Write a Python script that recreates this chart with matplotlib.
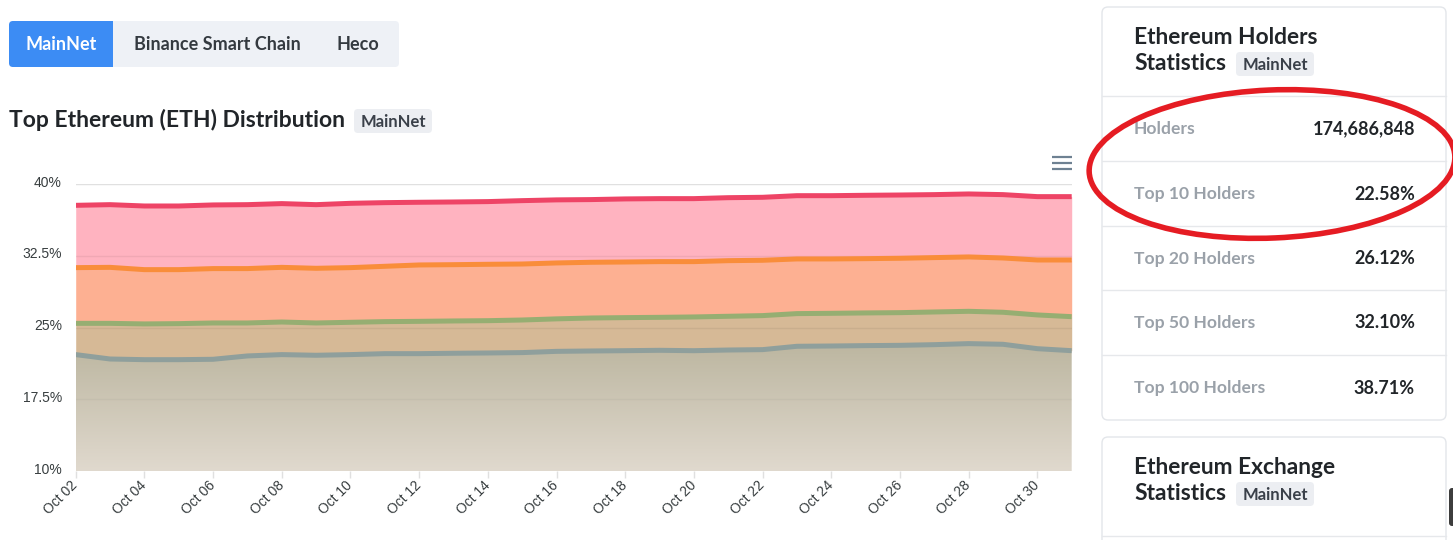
import numpy as np
import matplotlib
matplotlib.use("Agg")
import matplotlib.pyplot as plt
import matplotlib.transforms as mtransforms
from matplotlib.patches import FancyBboxPatch, Rectangle, Ellipse
from matplotlib.ticker import FuncFormatter

# ---- data ----
days = list(range(2, 32))  # Oct 02 .. Oct 31

top100 = [37.80, 37.87, 37.73, 37.73, 37.84, 37.87, 37.98, 37.87, 38.01, 38.08,
          38.12, 38.15, 38.19, 38.29, 38.37, 38.40, 38.47, 38.50, 38.50, 38.60,
          38.64, 38.81, 38.81, 38.85, 38.88, 38.92, 38.99, 38.92, 38.71, 38.71]
top50 = [31.28, 31.31, 31.07, 31.07, 31.18, 31.18, 31.31, 31.21, 31.28, 31.42,
         31.56, 31.59, 31.63, 31.66, 31.77, 31.84, 31.87, 31.91, 31.91, 32.01,
         32.05, 32.19, 32.19, 32.22, 32.26, 32.33, 32.40, 32.29, 32.08, 32.08]
top20 = [25.45, 25.45, 25.39, 25.42, 25.49, 25.49, 25.59, 25.49, 25.56, 25.63,
         25.66, 25.70, 25.73, 25.80, 25.92, 26.01, 26.05, 26.08, 26.12, 26.19,
         26.26, 26.47, 26.50, 26.54, 26.57, 26.64, 26.71, 26.61, 26.33, 26.15]
top10 = [22.18, 21.72, 21.65, 21.65, 21.69, 22.04, 22.18, 22.11, 22.18, 22.28,
         22.28, 22.32, 22.35, 22.39, 22.52, 22.56, 22.59, 22.63, 22.59, 22.66,
         22.70, 23.05, 23.08, 23.12, 23.15, 23.22, 23.33, 23.26, 22.80, 22.59]

y_ticks = [10, 17.5, 25, 32.5, 40]
x_ticks = list(range(2, 31, 2))

tabs = ["MainNet", "Binance Smart Chain", "Heco"]
row_labels = ["Holders", "Top 10 Holders", "Top 20 Holders", "Top 50 Holders", "Top 100 Holders"]
row_values = ["174,686,848", "22.58%", "26.12%", "32.10%", "38.71%"]

W, H = 1453, 540
FONT = "Lato"
DARK = "#212529"

fig = plt.figure(figsize=(W / 100, H / 100), dpi=100)
fig.patch.set_facecolor("white")

# overlay axes in pixel coordinates for the page chrome
page = fig.add_axes([0, 0, 1, 1], zorder=0)
page.set_xlim(0, W)
page.set_ylim(H, 0)
page.axis("off")


def rbox(x0, y0, x1, y1, fc, ec="none", r=4, lw=1, z=1):
    p = FancyBboxPatch((x0, y0), x1 - x0, y1 - y0,
                       boxstyle=f"round,pad=0,rounding_size={r}",
                       fc=fc, ec=ec, lw=lw, zorder=z)
    page.add_patch(p)


def badge(x0, yc, text):
    rbox(x0, yc - 12, x0 + 78, yc + 12, "#eceef2", r=4)
    page.text(x0 + 39, yc + 1, text, ha="center", va="center", fontsize=12,
              fontfamily=FONT, fontweight="bold", color="#3a4049", zorder=3)


# tab group
rbox(9, 21, 399, 67, "#eef1f6", r=4)
rbox(9, 21, 113, 67, "#3c8cf4", r=4, z=2)
page.add_patch(Rectangle((60, 21), 53, 46, fc="#3c8cf4", ec="none", zorder=2))
page.text(61, 45, tabs[0], ha="center", va="center", fontsize=13,
          fontfamily=FONT, fontweight="bold", color="white", zorder=3)
page.text(217, 45, tabs[1], ha="center", va="center", fontsize=13,
          fontfamily=FONT, fontweight="bold", color="#343a40", zorder=3)
page.text(358, 45, tabs[2], ha="center", va="center", fontsize=13,
          fontfamily=FONT, fontweight="bold", color="#343a40", zorder=3)

# chart title
page.text(9, 120, "Top Ethereum (ETH) Distribution", ha="left", va="center",
          fontsize=16.5, fontfamily=FONT, fontweight="bold", color=DARK)
badge(354, 121, "MainNet")

# hamburger menu
for yy in (157, 163, 169):
    page.plot([1052, 1072], [yy, yy], color="#6e8192", lw=1.6, solid_capstyle="butt")

# holders card
rbox(1102, 7, 1446, 420, "white", ec="#e3e6ea", r=6, lw=1)
page.text(1134, 38, "Ethereum Holders", ha="left", va="center", fontsize=16.4,
          fontfamily=FONT, fontweight="bold", color=DARK)
page.text(1134, 63, "Statistics", ha="left", va="center", fontsize=16.4,
          fontfamily=FONT, fontweight="bold", color=DARK)
badge(1236, 64, "MainNet")
sep_y = [96, 161, 226, 290, 355]
for i, (lab, val) in enumerate(zip(row_labels, row_values)):
    page.plot([1102, 1446], [sep_y[i], sep_y[i]], color="#e6e8eb", lw=1)
    yc = sep_y[i] + 33
    page.text(1134, yc, lab, ha="left", va="center", fontsize=12.6,
              fontfamily=FONT, fontweight="bold", color="#9aa1a9")
    page.text(1415, yc, val, ha="right", va="center", fontsize=13,
              fontfamily=FONT, fontweight="bold", color=DARK)

# exchange card
rbox(1102, 437, 1446, 600, "white", ec="#e3e6ea", r=6, lw=1)
page.text(1134, 468, "Ethereum Exchange", ha="left", va="center", fontsize=16.4,
          fontfamily=FONT, fontweight="bold", color=DARK)
page.text(1134, 493, "Statistics", ha="left", va="center", fontsize=16.4,
          fontfamily=FONT, fontweight="bold", color=DARK)
badge(1236, 494, "MainNet")
page.plot([1102, 1446], [536, 536], color="#e6e8eb", lw=1)
rbox(1449, 488, 1458, 526, "#3d3d3d", r=3)

# hand-drawn red ellipse
page.add_patch(Ellipse((1272, 164), 366, 148, angle=-2.5, fc="none",
                       ec="#e51c23", lw=4, zorder=5))

# ---- the area chart ----
ax = fig.add_axes([75.7 / W, (H - 471) / H, 996 / W, 286.7 / H], zorder=1)
ax.set_xlim(days[0], days[-1])
ax.set_ylim(10, 40)

ax.fill_between(days, top50, top100, color="#ffb3c0", lw=0, zorder=1)
ax.fill_between(days, top20, top50, color="#fdb092", lw=0, zorder=2)
ax.fill_between(days, top10, top20, color="#d6b996", lw=0, zorder=3)

# gradient under the top-10 line
base = ax.fill_between(days, 10, top10, color="none", lw=0, zorder=4)
grad = np.linspace(0, 1, 256).reshape(-1, 1)
c_top = np.array([188, 182, 160]) / 255
c_bot = np.array([224, 217, 206]) / 255
img = c_top + (c_bot - c_top) * grad[:, :, None]
im = ax.imshow(img, extent=[days[0], days[-1], 10, max(top10)], origin="upper",
               aspect="auto", zorder=4)
im.set_clip_path(base.get_paths()[0], transform=ax.transData)

# grid: plain grey above the areas, faint where it runs through the fills
ax.axhline(40, color="#e0e0e0", lw=1, zorder=5)
for yv in y_ticks[1:-1]:
    ax.axhline(yv, color="black", alpha=0.06 if yv > 20 else 0.03, lw=1, zorder=5)

line_kw = dict(lw=3.6, solid_joinstyle="round", solid_capstyle="butt", zorder=6)
ax.plot(days, top100, color="#ee4466", **line_kw)
ax.plot(days, top50, color="#f98d3a", **line_kw)
ax.plot(days, top20, color="#96ae72", **line_kw)
ax.plot(days, top10, color="#8f9f9c", **line_kw)

ax.set_yticks(y_ticks)
ax.yaxis.set_major_formatter(FuncFormatter(lambda v, p: f"{v:g}%"))
ax.set_xticks(x_ticks)
ax.xaxis.set_major_formatter(FuncFormatter(lambda v, p: f"Oct {int(v):02d}"))
for s in ax.spines.values():
    s.set_visible(False)
ax.tick_params(axis="y", length=0, pad=10, labelsize=10, labelcolor="#373d3f")
ax.tick_params(axis="x", length=5, width=1, color="#e0e0e0", pad=4,
               labelsize=10, labelcolor="#373d3f")
shift_up = mtransforms.ScaledTranslation(0, 3 / 100, fig.dpi_scale_trans)
for lab in ax.get_yticklabels():
    lab.set_fontfamily("Liberation Sans")
    lab.set_transform(lab.get_transform() + shift_up)
for lab in ax.get_xticklabels():
    lab.set_fontfamily("Liberation Sans")
    lab.set_rotation(45)
    lab.set_rotation_mode("anchor")
    lab.set_ha("right")
    lab.set_va("center")

fig.savefig("out.png", dpi=100)
